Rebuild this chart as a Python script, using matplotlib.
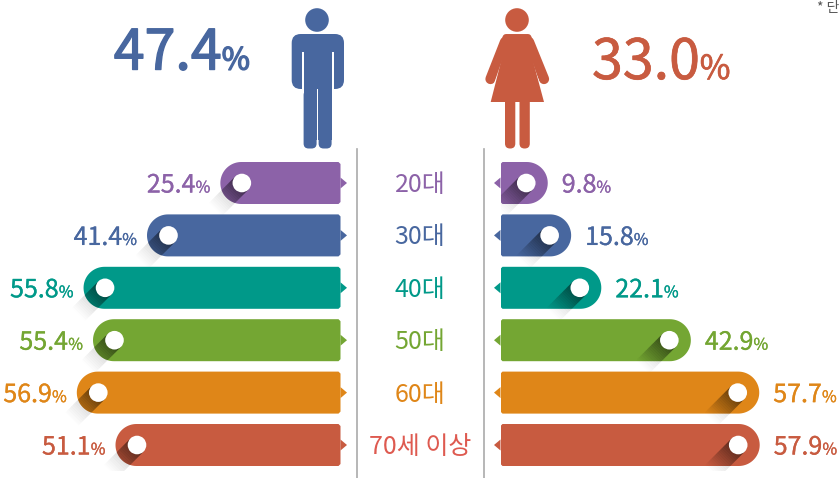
import matplotlib

matplotlib.use("Agg")
import matplotlib.pyplot as plt
import numpy as np
from matplotlib import patheffects
from matplotlib.patches import Circle, FancyBboxPatch, PathPatch, Polygon, Rectangle
from matplotlib.path import Path
from matplotlib.transforms import IdentityTransform

# printed percentages
ages = ["20대", "30대", "40대", "50대", "60대", "70세 이상"]
male_pct = ["25.4", "41.4", "55.8", "55.4", "56.9", "51.1"]
female_pct = ["9.8", "15.8", "22.1", "42.9", "57.7", "57.9"]
male_total = "47.4"
female_total = "33.0"
note = "* 단"

# bar lengths as drawn in the picture, in percent units (not quite the printed numbers)
male_bars = [26.7, 43.0, 57.1, 55.0, 58.6, 50.0]
female_bars = [10.5, 15.7, 22.4, 42.3, 57.5, 57.6]

colors = ["#8C62A8", "#48679F", "#009989", "#74A633", "#DF8618", "#C85B40"]
age_colors = ["#8C62A8", "#48679F", "#009989", "#74A633", "#DF8618", "#DE5A50"]
MALE = "#48679F"
FEMALE = "#C85B40"

W, H = 840, 478
PX_PER_UNIT = 4.5
ROW = 52.4
BAR_H = 42
FONT = ["Noto Sans CJK KR", "DejaVu Sans"]

fig = plt.figure(figsize=(W / 100, H / 100), dpi=100)
bg = fig.add_axes([0, 0, 1, 1])
bg.set_xlim(0, W)
bg.set_ylim(H, 0)
bg.axis("off")


def panel(left, right, xlim):
    top = 156.8
    bottom = top + ROW * 6
    ax = fig.add_axes(
        [left / W, 1 - bottom / H, (right - left) / W, (bottom - top) / H]
    )
    ax.set_xlim(*xlim)
    ax.set_ylim(5.5, -0.5)
    ax.axis("off")
    ax.patch.set_alpha(0)
    return ax


def bar_path(length, row):
    """Bar with a small radius at the base and a full round end, in data units."""
    r = BAR_H / 2
    end = length * PX_PER_UNIT - r
    t = np.linspace(np.pi / 2, -np.pi / 2, 40)
    xs = [2, end] + list(end + r * np.cos(t)) + [2, 0, 0, 2]
    ys = [-r, -r] + list(-r * np.sin(t)) + [r, r - 2, -r + 2, -r]
    return np.column_stack([np.array(xs) / PX_PER_UNIT, row + np.array(ys) / ROW])


def shadow(ax, x, y, clip=None):
    """45 degree shadow running down-left from the dot, fading out."""
    sx = 1 / PX_PER_UNIT
    sy = 1 / ROW
    sign = 1 if ax.get_xlim()[1] > ax.get_xlim()[0] else -1
    steps = 34
    p = 9.3 * 0.707
    for k in range(steps):
        d0 = k * 1.1 * 0.707
        d1 = ((k + 1) * 1.1 + 0.3) * 0.707
        corners = [
            (-d0 - p, d0 - p),
            (-d0 + p, d0 + p),
            (-d1 + p, d1 + p),
            (-d1 - p, d1 - p),
        ]
        pts = [(x + sign * cx * sx, y + cy * sy) for cx, cy in corners]
        fade = 1 - k / steps
        if clip is None:
            ax.add_patch(Polygon(pts, fc="#000000", ec="none", alpha=0.18 * fade, zorder=1))
        else:
            pg = Polygon(pts, fc="#000000", ec="none", alpha=0.50 * fade**1.2, zorder=3)
            ax.add_patch(pg)
            pg.set_clip_path(clip)


def pct_text(x_px, y_px, num, side, size, small, color, stroke=0.0):
    baseline = H - y_px
    kw = dict(transform=IdentityTransform(), color=color, family=FONT, va="baseline")
    fx = [patheffects.withStroke(linewidth=stroke, foreground=color)] if stroke else []
    rend = fig.canvas.get_renderer()
    if side == "after":
        t = fig.text(x_px, baseline, num, ha="left", fontsize=size, path_effects=fx, **kw)
        ext = t.get_window_extent(rend)
        fig.text(ext.x1, baseline, "%", ha="left", fontsize=small, path_effects=fx, **kw)
    else:
        t = fig.text(x_px, baseline, "%", ha="right", fontsize=small, path_effects=fx, **kw)
        ext = t.get_window_extent(rend)
        fig.text(ext.x0, baseline, num, ha="right", fontsize=size, path_effects=fx, **kw)


def draw_side(ax, bars, labels, side):
    for i, (v, c, lab) in enumerate(zip(bars, colors, labels)):
        dot_x = v - 21.5 / PX_PER_UNIT
        # the soft grey shadow sits under the bar
        shadow(ax, dot_x, i)
        patch = PathPatch(Path(bar_path(v, i)), fc=c, ec="none", zorder=2)
        ax.add_patch(patch)
        shadow(ax, dot_x, i, clip=patch)
        # tip at the base of the bar, pointing at the age column
        tip = Polygon(
            [(-6.5 / PX_PER_UNIT, i), (0, i - 5.5 / ROW), (0, i + 5.5 / ROW)],
            fc=c,
            ec="none",
            zorder=2,
            clip_on=False,
        )
        ax.add_patch(tip)
        # dot is round in pixels, so it is placed in display units
        px, py = ax.transData.transform((dot_x, i))
        fig.add_artist(
            Circle((px, py), 9.3, transform=IdentityTransform(), fc="white", ec="none", zorder=5)
        )
        ex, _ = ax.transData.transform((v, i))
        if side == "before":
            pct_text(ex - 10, H - py + 9.5, lab, side, 18, 11.5, c, stroke=0.2)
        else:
            pct_text(ex + 14, H - py + 9.5, lab, side, 18, 11.5, c, stroke=0.2)


def man(color):
    bg.add_patch(Circle((317, 20), 11.8, fc=color, ec="none"))
    # shoulders and arms
    bg.add_patch(
        FancyBboxPatch(
            (296.7, 39), 42.3, 45, boxstyle="round,pad=5,rounding_size=9", fc=color, ec="none"
        )
    )
    bg.add_patch(Rectangle((301.7, 52), 1.9, 40, fc="white", ec="none"))
    bg.add_patch(Rectangle((331.6, 52), 2.0, 40, fc="white", ec="none"))
    # legs
    bg.add_patch(Rectangle((303.6, 52), 28, 88, fc=color, ec="none"))
    for x0 in (303.6, 318.6):
        bg.add_patch(
            FancyBboxPatch(
                (x0 + 5, 95), 3, 48.5, boxstyle="round,pad=5,rounding_size=5", fc=color, ec="none"
            )
        )
    bg.add_patch(Rectangle((316.9, 89), 1.2, 60, fc="white", ec="none"))


def woman(color):
    bg.add_patch(Circle((517, 20), 11.8, fc=color, ec="none"))
    for xa, xb in ((505, 490.5), (529, 544)):
        bg.plot([xa, xb], [42, 79], color=color, lw=7.4, solid_capstyle="round")
    # white gap between arm and dress
    bg.plot([506, 490], [52, 98], color="white", lw=1.4)
    bg.plot([528, 544], [52, 98], color="white", lw=1.4)
    bg.add_patch(
        Polygon(
            [(506, 37.5), (528, 37.5), (531, 46), (503, 46)],
            fc=color, ec=color, lw=5, joinstyle="round", zorder=3,
        )
    )
    bg.add_patch(
        Polygon(
            [(505, 46), (529, 46), (544, 102), (490.7, 102)],
            fc=color, ec="none", zorder=3,
        )
    )
    for x0 in (505, 519.5):
        bg.add_patch(
            FancyBboxPatch(
                (x0 + 5, 100), 0.3, 43.5, boxstyle="round,pad=5,rounding_size=5",
                fc=color, ec="none", zorder=3,
            )
        )


# axis centre lines
bg.plot([357, 357], [149, H], color="#AAAAAA", lw=1.2)
bg.plot([484, 484], [149, H], color="#AAAAAA", lw=1.2)

man(MALE)
woman(FEMALE)

ax_left = panel(0, 340.5, (340.5 / PX_PER_UNIT, 0))
ax_right = panel(500.5, W, (0, (W - 500.5) / PX_PER_UNIT))
fig.canvas.draw()
draw_side(ax_left, male_bars, male_pct, "before")
draw_side(ax_right, female_bars, female_pct, "after")

# age column
for i, (age, c) in enumerate(zip(ages, age_colors)):
    y = 185 + i * ROW
    bg.text(420, y, age, ha="center", va="center", fontsize=18, family=FONT, color=c)

# big totals
pct_text(250, 69.5, male_total, "before", 40, 22, MALE, stroke=1.0)
pct_text(592, 79, female_total, "after", 40, 24, FEMALE, stroke=0.5)

fig.text(817 / W, 1 - 8 / H, note, fontsize=10, color="#555555", family=FONT, va="center")

fig.savefig("out.png", dpi=100)
plt.close(fig)
